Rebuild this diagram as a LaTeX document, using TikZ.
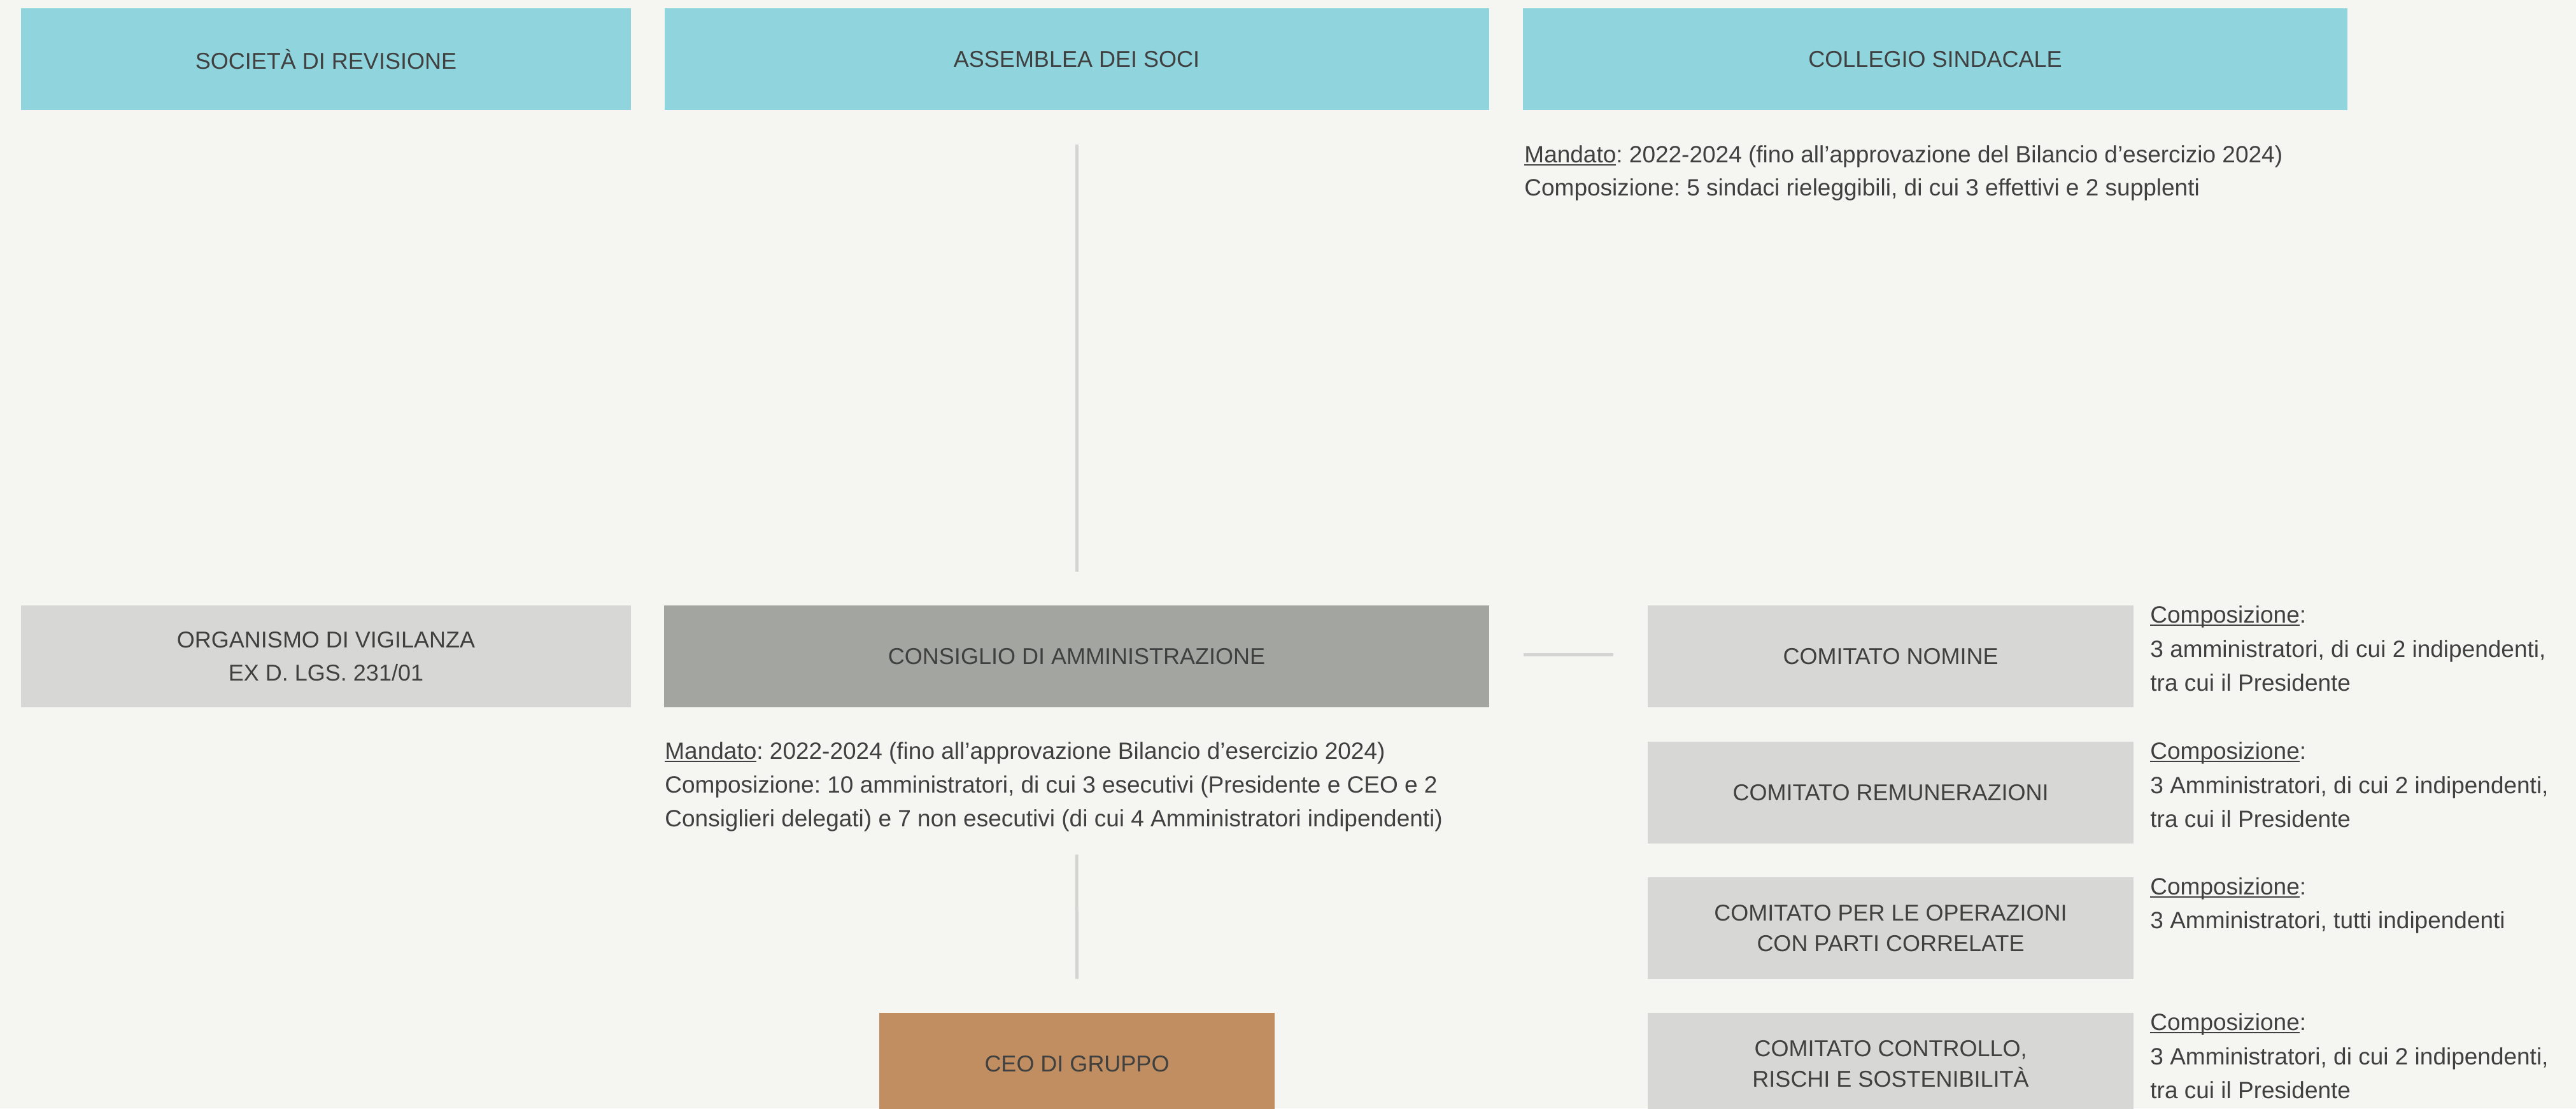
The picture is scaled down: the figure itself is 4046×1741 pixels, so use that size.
\documentclass[tikz,border=0pt]{standalone}
\usepackage{fontspec}
\setmainfont{Liberation Sans}
\usetikzlibrary{calc}
\definecolor{bg}{HTML}{F5F6F1}
\definecolor{cyanbox}{HTML}{90D5DE}
\definecolor{lgray}{HTML}{D7D7D5}
\definecolor{dgray}{HTML}{A3A5A1}
\definecolor{ceobrown}{HTML}{C08E60}
\definecolor{txt}{HTML}{404040}
\definecolor{linec}{HTML}{D4D4D2}
\newsavebox\myulbox
\newcommand\myul[1]{\sbox\myulbox{#1}\rlap{\rule[-2.5pt]{\wd\myulbox}{1pt}}\usebox\myulbox}
\begin{document}
\frenchspacing
\begin{tikzpicture}[x=0.5pt,y=-0.5pt,
  box/.style={rectangle, inner sep=0pt, minimum height=80pt, text=txt,
    font=\fontsize{18}{26}\selectfont\frenchspacing, align=center},
  tightbox/.style={box, font=\fontsize{18}{24}\selectfont\frenchspacing},
  body/.style={anchor=base west, inner sep=0pt, text=txt,
    font=\fontsize{18.5}{26}\selectfont\frenchspacing},
  conn/.style={draw=linec, line width=2.5pt}]
\fill[bg] (0,0) rectangle (4046,1741);
\useasboundingbox (0,0) rectangle (4046,1741);

% top row
\node[box, fill=cyanbox, minimum width=479pt] (soc) at (512,93) {SOCIETÀ DI REVISIONE};
\node[box, fill=cyanbox, minimum width=647.5pt] (ass) at (1691,93) {ASSEMBLEA DEI SOCI};
\node[box, fill=cyanbox, minimum width=647.5pt] (col) at (3039.5,93) {COLLEGIO SINDACALE};

% middle row
\node[box, fill=lgray, minimum width=479pt] (odv) at (512,1031) {ORGANISMO DI VIGILANZA\\EX D. LGS. 231/01};
\node[box, fill=dgray, minimum width=648pt] (cda) at (1691,1031) {CONSIGLIO DI AMMINISTRAZIONE};
\node[box, fill=ceobrown, minimum width=310.5pt] (ceo) at (1691.5,1671) {CEO DI GRUPPO};

% committees
\node[box, fill=lgray, minimum width=381.5pt] (cn) at (2969.5,1031) {COMITATO NOMINE};
\node[box, fill=lgray, minimum width=381.5pt] (cr) at (2969.5,1245) {COMITATO REMUNERAZIONI};
\node[tightbox, fill=lgray, minimum width=381.5pt] (opc) at (2969.5,1458) {COMITATO PER LE OPERAZIONI\\CON PARTI CORRELATE};
\node[tightbox, fill=lgray, minimum width=381.5pt] (ccr) at (2969.5,1671) {COMITATO CONTROLLO,\\RISCHI E SOSTENIBILITÀ};

% connectors
\coordinate (a1) at ($(ass.south)+(0,54)$);
\coordinate (a2) at ($(cda.north)+(0,-53)$);
\draw[conn] (a1) -- (a2);
\coordinate (b1) at ($(cda.south)+(0,231)$);
\coordinate (b2) at ($(ceo.north)+(0,-53)$);
\draw[conn] (b1) -- (b2);
\coordinate (c1) at ($(cda.east)+(54,-3)$);
\coordinate (c2) at ($(cn.west)+(-54,-3)$);
\draw[conn] (c1) -- (c2);

% collegio text
\node[body] (colt1) at (2394,255) {\myul{Mandato}: 2022-2024 (fino all’approvazione del Bilancio d’esercizio 2024)};
\node[body] (colt2) at (2394,307) {Composizione: 5 sindaci rieleggibili, di cui 3 effettivi e 2 supplenti};

% cda text
\node[body] (cdat1) at (1044,1192) {\myul{Mandato}: 2022-2024 (fino all’approvazione Bilancio d’esercizio 2024)};
\node[body] (cdat2) at (1044,1245) {Composizione: 10 amministratori, di cui 3 esecutivi (Presidente e CEO e 2};
\node[body] (cdat3) at (1044,1298) {Consiglieri delegati) e 7 non esecutivi (di cui 4 Amministratori indipendenti)};

% committee texts
\node[body] (cnt1) at (3377,978) {\myul{Composizione}:};
\node[body] (cnt2) at (3377,1032) {3 amministratori, di cui 2 indipendenti,};
\node[body] (cnt3) at (3377,1085) {tra cui il Presidente};

\node[body] (crt1) at (3377,1192) {\myul{Composizione}:};
\node[body] (crt2) at (3377,1246) {3 Amministratori, di cui 2 indipendenti,};
\node[body] (crt3) at (3377,1299) {tra cui il Presidente};

\node[body] (opct1) at (3377,1405) {\myul{Composizione}:};
\node[body] (opct2) at (3377,1458) {3 Amministratori, tutti indipendenti};

\node[body] (ccrt1) at (3377,1618) {\myul{Composizione}:};
\node[body] (ccrt2) at (3377,1672) {3 Amministratori, di cui 2 indipendenti,};
\node[body] (ccrt3) at (3377,1725) {tra cui il Presidente};
\end{tikzpicture}
\end{document}
